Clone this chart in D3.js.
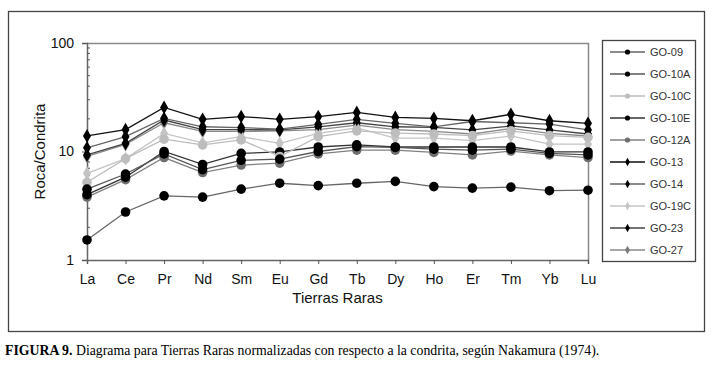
<!DOCTYPE html>
<html>
<head>
<meta charset="utf-8">
<script src="https://cdn.jsdelivr.net/npm/d3@7"></script>
<style>
  body { margin: 0; background: #fff; }
  svg text { font-family: "Liberation Sans", Arial, sans-serif; }
</style>
</head>
<body>
<div id="chart"></div>
<script>
// categories
var elements = ["La","Ce","Pr","Nd","Sm","Eu","Gd","Tb","Dy","Ho","Er","Tm","Yb","Lu"];
var yTicks = [1, 10, 100];

// values (rock / chondrite)
var go09  = [1.53, 2.77, 3.9, 3.8, 4.5, 5.1, 4.85, 5.1, 5.3, 4.75, 4.6, 4.7, 4.35, 4.4];
var go10a = [4.5, 6.2, 9.5, 6.8, 8.3, 8.5, 10.0, 11.1, 10.9, 10.5, 10.3, 10.5, 9.6, 9.3];
var go10c = [5.2, 8.6, 13.0, 11.5, 12.8, 9.0, 13.7, 15.5, 14.8, 14.5, 14.0, 15.5, 14.0, 13.5];
var go10e = [4.0, 5.8, 10.0, 7.6, 9.6, 9.9, 11.0, 11.5, 11.0, 11.0, 11.0, 11.0, 9.9, 9.9];
var go12a = [3.8, 5.5, 8.8, 6.4, 7.5, 7.8, 9.5, 10.3, 10.3, 9.8, 9.3, 10.1, 9.3, 8.8];
var go13  = [13.9, 15.9, 25.5, 19.8, 21.0, 19.8, 21.0, 22.9, 20.6, 20.2, 19.2, 22.0, 19.2, 18.2];
var go14  = [10.8, 13.7, 20.2, 16.9, 16.6, 16.1, 17.8, 19.8, 18.2, 16.9, 18.9, 18.4, 17.9, 15.8];
var go19c = [6.3, 8.6, 14.7, 12.0, 13.7, 11.9, 14.7, 16.5, 13.3, 13.3, 12.6, 13.9, 11.7, 11.7];
var go23  = [9.3, 11.9, 19.5, 15.9, 15.9, 15.8, 16.9, 18.4, 16.9, 16.7, 15.8, 17.2, 15.8, 14.5];
var go27  = [9.0, 11.6, 18.4, 15.3, 15.3, 15.5, 15.9, 17.5, 15.9, 15.3, 14.5, 16.3, 14.7, 13.9];

var seriesNames = ["GO-09","GO-10A","GO-10C","GO-10E","GO-12A","GO-13","GO-14","GO-19C","GO-23","GO-27"];
var seriesValues = [go09, go10a, go10c, go10e, go12a, go13, go14, go19c, go23, go27];
var lineColors   = ["#666","#555","#bdbdbd","#333","#808080","#111","#666","#c4c4c4","#444","#8a8a8a"];
var markColors   = ["#000","#000","#bdbdbd","#000","#6e6e6e","#000","#000","#c4c4c4","#000","#7a7a7a"];
var markShapes   = ["circle","circle","circle","circle","circle","diamond","diamond","diamond","diamond","diamond"];

var W = 719, H = 366;
var margin = {top: 43, left: 87, right: 131, bottom: 106};
var width = W - margin.left - margin.right,
    height = H - margin.top - margin.bottom;

var svg = d3.select("#chart").append("svg")
    .attr("width", W).attr("height", H);

// outer frame
svg.append("rect")
    .attr("x", 8.5).attr("y", 11.5).attr("width", 696).attr("height", 320)
    .attr("fill", "none").attr("stroke", "#444").attr("stroke-width", 1.3);

var g = svg.append("g")
    .attr("transform", "translate(" + margin.left + "," + margin.top + ")");

var x = d3.scalePoint().domain(elements).range([0, width]);
var y = d3.scaleLog().domain([1, 100]).range([height, 0]);

// top and right border of plot
g.append("path")
    .attr("d", "M0,0.5H" + (width + 0.5) + "V" + height)
    .attr("fill", "none").attr("stroke", "#888").attr("stroke-width", 1.5);

// x axis
var xAxis = g.append("g")
    .attr("transform", "translate(0," + height + ")")
    .call(d3.axisBottom(x).tickSize(4).tickPadding(10));
xAxis.selectAll("text").attr("font-size", 14).attr("fill", "#111");

// y axis: major ticks outside, minor ticks inside
var yAxis = g.append("g")
    .call(d3.axisLeft(y).tickValues(yTicks).tickFormat(d3.format("d")).tickSize(5).tickPadding(8));
yAxis.selectAll("text").attr("font-size", 14).attr("fill", "#111");
var minor = [];
[1, 10].forEach(function(b) { for (var i = 2; i <= 9; i++) minor.push(b * i); });
g.append("g").selectAll("line").data(minor).enter().append("line")
    .attr("x1", 0).attr("x2", 3)
    .attr("y1", function(d) { return y(d); }).attr("y2", function(d) { return y(d); })
    .attr("stroke", "#555");
g.selectAll(".domain").attr("stroke", "#666").attr("stroke-width", 1.5);
g.selectAll(".tick line").attr("stroke", "#555");

// axis titles
svg.append("text")
    .attr("x", margin.left + width / 2).attr("y", 303)
    .attr("text-anchor", "middle").attr("font-size", 15).attr("fill", "#111")
    .text("Tierras Raras");
svg.append("text")
    .attr("transform", "translate(45," + (margin.top + height / 2) + ") rotate(-90)")
    .attr("text-anchor", "middle").attr("font-size", 15).attr("fill", "#111")
    .text("Roca/Condrita");

var line = d3.line()
    .x(function(d, i) { return x(elements[i]); })
    .y(function(d) { return y(d); });

var diamond = d3.symbol().type(d3.symbolDiamond);

// draw from last to first so the earlier series sit on top
for (var s = seriesValues.length - 1; s >= 0; s--) {
  var vals = seriesValues[s];
  g.append("path").datum(vals)
      .attr("d", line)
      .attr("fill", "none").attr("stroke", lineColors[s]).attr("stroke-width", 1.3);
  var pts = g.append("g").selectAll("path").data(vals).enter();
  if (markShapes[s] === "circle") {
    pts.append("circle")
        .attr("cx", function(d, i) { return x(elements[i]); })
        .attr("cy", function(d) { return y(d); })
        .attr("r", 4.8)
        .attr("fill", markColors[s]);
  } else {
    pts.append("path")
        .attr("d", diamond.size(55))
        .attr("transform", function(d, i) { return "translate(" + x(elements[i]) + "," + y(d) + ")"; })
        .attr("fill", markColors[s]);
  }
}

// legend
var leg = svg.append("g");
leg.append("rect")
    .attr("x", 602.5).attr("y", 40.5).attr("width", 93).attr("height", 221)
    .attr("fill", "#fff").attr("stroke", "#444").attr("stroke-width", 1.3);
var legY = d3.scalePoint().domain(seriesNames).range([52, 250]);
seriesNames.forEach(function(name, i) {
  var yy = legY(name);
  leg.append("line")
      .attr("x1", 610).attr("x2", 645).attr("y1", yy).attr("y2", yy)
      .attr("stroke", lineColors[i]).attr("stroke-width", 1.3);
  if (markShapes[i] === "circle") {
    leg.append("circle").attr("cx", 627.5).attr("cy", yy).attr("r", 2.6).attr("fill", markColors[i]);
  } else {
    leg.append("path").attr("d", diamond.size(20))
        .attr("transform", "translate(627.5," + yy + ")").attr("fill", markColors[i]);
  }
  leg.append("text")
      .attr("x", 650).attr("y", yy).attr("dy", "0.35em")
      .attr("font-size", 11).attr("fill", "#333")
      .text(name);
});

// caption
var cap = svg.append("text")
    .attr("x", 5).attr("y", 355)
    .attr("font-family", "'Liberation Serif', 'Times New Roman', serif")
    .attr("font-size", 13.8).attr("fill", "#000");
cap.append("tspan").attr("font-weight", "bold").attr("font-family", "'Liberation Serif', serif").text("FIGURA 9.");
cap.append("tspan").attr("font-family", "'Liberation Serif', serif").text(" Diagrama para Tierras Raras normalizadas con respecto a la condrita, según Nakamura (1974).");
</script>
</body>
</html>
